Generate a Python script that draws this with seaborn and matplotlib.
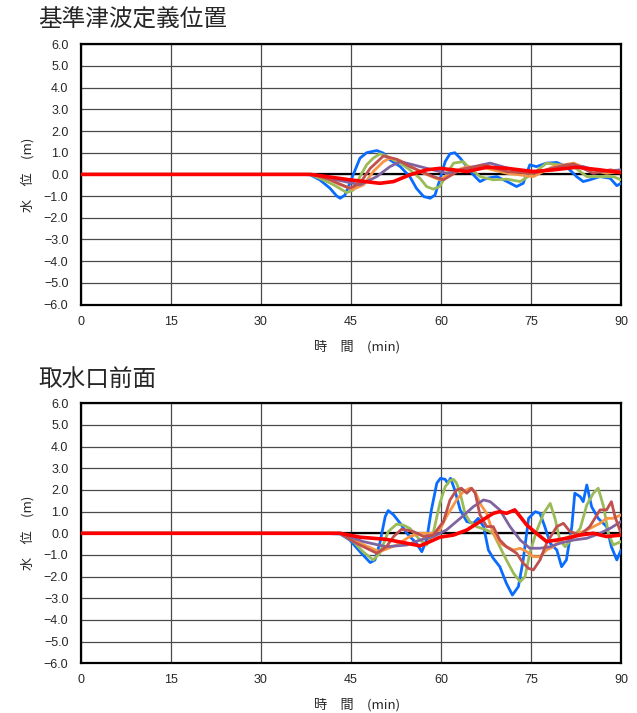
import matplotlib
matplotlib.use("Agg")
import matplotlib.pyplot as plt
import seaborn as sns
import pandas as pd

sns.set_style("white")
plt.rcParams["font.family"] = ["Noto Sans CJK JP", "DejaVu Sans"]

# ---------------- data ----------------
x_ticks = [0, 15, 30, 45, 60, 75, 90]
y_ticks = [6.0, 5.0, 4.0, 3.0, 2.0, 1.0, 0.0, -1.0, -2.0, -3.0, -4.0, -5.0, -6.0]
y_tick_labels = ["6.0", "5.0", "4.0", "3.0", "2.0", "1.0", "0.0",
                 "\u22121.0", "\u22122.0", "\u22123.0", "\u22124.0", "\u22125.0", "\u22126.0"]

panel_titles = ["基準津波定義位置", "取水口前面"]
x_label = "時\u3000間\u3000(min)"
y_label = "水\u3000位\u3000(m)"

series_names = ["case1", "case2", "case3", "case4", "case5", "case6"]
series_colors = ["#0a6cff", "#9bbb59", "#f79646", "#8064a2", "#c0504d", "#ff0000"]

# 基準津波定義位置 (time in min, water level in m)
top_t1 = [0, 36.5, 38.2, 39.8, 41.5, 42.6, 43.2, 44.0, 44.8, 45.7, 46.5, 47.6, 49.3, 50.4, 51.5,
          53.2, 54.8, 55.9, 57.1, 58.2, 59.0, 59.8, 60.7, 61.5, 62.3, 63.2, 64.3, 65.4, 66.5,
          67.6, 69.3, 71.0, 72.6, 73.7, 74.8, 75.9, 77.6, 79.3, 80.9, 82.6, 83.7, 84.8, 86.5,
          88.2, 89.3, 90.0]
top_v1 = [0, 0, -0.02, -0.25, -0.64, -0.99, -1.10, -0.95, -0.41, 0.21, 0.75, 1.0, 1.10, 0.98,
          0.67, 0.36, -0.10, -0.64, -1.02, -1.10, -0.95, -0.25, 0.59, 0.95, 1.0, 0.75, 0.36,
          -0.02, -0.33, -0.18, -0.10, -0.33, -0.56, -0.41, 0.44, 0.36, 0.52, 0.55, 0.36, -0.10,
          -0.33, -0.25, -0.10, -0.18, -0.52, -0.41]
top_t2 = [0, 38.2, 39.8, 42.1, 44.3, 45.4, 46.5, 47.6, 48.7, 49.8, 50.9, 52.1, 53.2, 54.8, 56.5,
          57.6, 58.7, 59.8, 61.0, 62.1, 63.7, 64.8, 66.5, 68.7, 71.0, 73.2, 75.4, 77.6, 79.8,
          82.1, 84.3, 86.5, 88.7, 90.0]
top_v2 = [0, 0, -0.18, -0.48, -0.84, -0.72, -0.10, 0.44, 0.75, 0.95, 0.85, 0.67, 0.52, 0.21,
          -0.18, -0.56, -0.68, -0.56, 0.05, 0.52, 0.59, 0.28, -0.10, -0.25, -0.22, -0.33, 0.05,
          0.52, 0.44, 0.36, -0.10, -0.10, -0.10, -0.25]
top_t3 = [0, 38.7, 41.0, 43.2, 45.4, 47.1, 48.7, 50.4, 51.5, 53.2, 54.8, 57.1, 59.8, 62.1, 64.3,
          67.6, 71.0, 75.4, 78.7, 82.1, 84.8, 87.6, 90.0]
top_v3 = [0, 0, -0.18, -0.48, -0.68, -0.48, 0.13, 0.59, 0.75, 0.64, 0.39, 0.05, -0.25, 0.13,
          0.36, 0.28, 0.05, -0.10, 0.36, 0.52, 0.21, 0.05, 0.13]
top_t4 = [0, 38.7, 42.1, 46.5, 49.3, 51.5, 53.2, 55.4, 57.6, 61.0, 64.3, 68.2, 72.1, 76.5, 80.9,
          83.7, 86.5, 90.0]
top_v4 = [0, 0, -0.22, -0.48, -0.10, 0.36, 0.59, 0.44, 0.28, 0.05, 0.28, 0.52, 0.21, 0.13, 0.44,
          0.36, 0.13, 0.21]
top_t5 = [0, 38.7, 41.5, 44.8, 46.5, 48.2, 50.4, 52.6, 54.8, 58.7, 60.4, 63.2, 67.1, 71.0, 75.4,
          79.8, 82.1, 85.4, 88.2, 90.0]
top_v5 = [0, 0, -0.25, -0.64, -0.41, 0.28, 0.85, 0.70, 0.36, -0.10, -0.25, 0.21, 0.44, 0.13,
          0.05, 0.36, 0.48, 0.05, 0.21, 0.13]
top_t6 = [0, 38.2, 40.9, 44.8, 49.8, 52.1, 54.8, 57.6, 59.8, 62.1, 64.3, 67.6, 71.0, 75.4, 78.7,
          82.6, 86.5, 90.0]
top_v6 = [0, 0, -0.10, -0.25, -0.41, -0.33, -0.02, 0.21, 0.28, 0.21, 0.13, 0.33, 0.28, 0.13,
          0.21, 0.33, 0.21, 0.08]

# 取水口前面 (time in min, water level in m)
bot_t1 = [0, 39.8, 43.2, 44.8, 46.5, 48.2, 49.0, 49.8, 50.7, 51.2, 52.1, 53.2, 54.3, 55.9, 56.8,
          57.6, 58.4, 59.3, 59.9, 60.7, 61.1, 61.6, 62.3, 63.2, 64.3, 65.4, 66.2, 67.1, 67.9,
          68.7, 69.8, 70.9, 71.9, 72.9, 73.7, 74.6, 75.7, 76.5, 77.3, 78.2, 79.3, 80.1, 80.9,
          81.8, 82.3, 83.2, 83.7, 84.3, 85.1, 86.2, 87.6, 88.4, 89.3, 90.0]
bot_v1 = [0, 0, -0.03, -0.31, -0.85, -1.35, -1.23, -0.46, 0.77, 1.05, 0.85, 0.46, 0.0, -0.46,
          -0.85, -0.31, 1.08, 2.31, 2.54, 2.49, 2.31, 2.54, 2.0, 1.08, 0.54, 0.46, 0.69, 0.31,
          -0.77, -1.15, -1.54, -2.31, -2.85, -2.46, -1.23, 0.69, 1.0, 0.92, 0.31, -0.46, -0.77,
          -1.54, -1.23, 0.31, 1.85, 1.69, 1.46, 2.23, 1.23, 0.69, 0.31, -0.62, -1.23, -0.77]
bot_t2 = [0, 43.2, 45.4, 47.0, 48.7, 49.8, 51.2, 52.6, 53.7, 54.8, 56.5, 57.6, 58.7, 59.8, 60.7,
          61.5, 62.1, 62.6, 63.2, 64.0, 64.8, 65.9, 67.6, 68.7, 69.8, 70.9, 72.1, 73.2, 74.0,
          74.8, 75.9, 77.1, 78.2, 79.0, 79.8, 80.7, 82.1, 83.2, 84.3, 85.4, 86.2, 87.1, 87.9,
          88.7, 90.0]
bot_v2 = [0, 0, -0.38, -0.85, -1.23, -0.92, 0.08, 0.42, 0.38, 0.23, -0.31, -0.54, 0.0, 1.38,
          2.15, 2.43, 2.49, 2.31, 1.85, 0.92, 0.54, 0.31, 0.15, 0.0, -0.62, -1.23, -1.85, -2.23,
          -2.0, -0.92, 0.08, 0.92, 1.38, 0.69, -0.31, -0.62, -0.15, 0.23, 1.31, 1.85, 2.08,
          1.23, 0.0, -0.54, -0.38]
bot_t3 = [0, 43.2, 46.5, 49.8, 52.6, 54.8, 56.5, 58.7, 59.8, 60.9, 62.6, 63.7, 64.8, 65.7, 66.5,
          67.6, 68.7, 69.8, 70.9, 72.1, 73.2, 74.3, 75.4, 76.5, 77.6, 78.7, 79.8, 82.1, 84.3,
          86.5, 87.6, 88.7, 90.0]
bot_v3 = [0, 0, -0.46, -0.85, -0.54, -0.15, 0.0, 0.0, 0.15, 0.77, 1.54, 1.92, 2.08, 1.92, 1.38,
          0.92, 0.0, -0.46, -0.62, -0.77, -0.69, -0.85, -1.08, -1.08, -0.77, -0.62, -0.31,
          -0.08, 0.15, 0.46, 0.69, 0.69, 0.85]
bot_t4 = [0, 43.2, 47.0, 50.9, 54.3, 56.5, 58.7, 60.9, 63.2, 65.4, 67.1, 68.2, 69.8, 71.5, 73.2,
          74.8, 76.5, 78.2, 79.8, 82.1, 84.3, 86.5, 88.2, 90.0]
bot_v4 = [0, 0, -0.38, -0.62, -0.54, -0.31, -0.15, 0.15, 0.69, 1.23, 1.54, 1.46, 1.08, 0.31,
          -0.31, -0.69, -0.69, -0.62, -0.46, -0.31, -0.23, 0.0, 0.23, 0.54]
bot_t5 = [0, 43.2, 45.9, 49.3, 50.9, 52.1, 53.4, 54.3, 55.4, 57.1, 58.7, 60.4, 61.5, 62.6, 63.4,
          64.3, 65.1, 65.7, 66.5, 67.6, 68.7, 69.8, 70.9, 72.6, 73.7, 74.6, 75.4, 76.5, 77.6,
          79.3, 80.4, 81.5, 83.2, 84.8, 86.5, 87.6, 88.4, 89.0, 90.0]
bot_v5 = [0, 0, -0.46, -0.92, -0.62, -0.15, 0.18, 0.15, 0.08, -0.15, -0.08, 0.54, 1.54, 2.0,
          2.08, 1.85, 2.08, 1.85, 0.85, 0.31, 0.31, -0.31, -0.62, -0.92, -1.38, -1.62, -1.69,
          -1.23, -0.46, 0.31, 0.46, 0.08, -0.08, 0.31, 1.08, 1.08, 1.46, 0.77, 0.0]
bot_t6 = [0, 43.2, 46.5, 50.9, 54.3, 56.5, 58.2, 59.8, 62.1, 64.3, 66.5, 68.7, 69.8, 70.9, 72.3,
          73.2, 74.3, 75.9, 77.6, 79.3, 80.9, 83.2, 85.4, 87.6, 90.0]
bot_v6 = [0, 0, -0.18, -0.28, -0.46, -0.58, -0.38, -0.18, -0.08, 0.15, 0.54, 0.92, 1.0, 0.92,
          1.08, 0.77, 0.38, 0.0, -0.38, -0.31, -0.23, -0.08, 0.0, -0.15, -0.08]

panels = [
    [(top_t1, top_v1), (top_t2, top_v2), (top_t3, top_v3),
     (top_t4, top_v4), (top_t5, top_v5), (top_t6, top_v6)],
    [(bot_t1, bot_v1), (bot_t2, bot_v2), (bot_t3, bot_v3),
     (bot_t4, bot_v4), (bot_t5, bot_v5), (bot_t6, bot_v6)],
]

# ---------------- figure ----------------
W, H = 637, 713
fig = plt.figure(figsize=(W / 100, H / 100), dpi=100)

# axes boxes in pixels: (left, top, right, bottom)
boxes = [(81, 44.3, 621, 304.5), (81, 403.3, 621, 663.3)]
title_y = [20.5, 379]

tick_font = dict(family=["Liberation Sans", "DejaVu Sans"], size=9)

for k, (box, series) in enumerate(zip(boxes, panels)):
    l, t, r, b = box
    ax = fig.add_axes([l / W, 1 - b / H, (r - l) / W, (b - t) / H])

    ax.axhline(0, color="black", lw=1.6, zorder=2)
    for i, ((ts, vs), name, col) in enumerate(zip(series, series_names, series_colors)):
        df = pd.DataFrame({"t": ts, "v": vs})
        lw = 2.6 if i == 5 else 2.0
        sns.lineplot(data=df, x="t", y="v", ax=ax, color=col, lw=lw,
                     estimator=None, sort=False, zorder=3 + i)

    ax.set_xlim(0, 90)
    ax.set_ylim(-6, 6)
    ax.set_xticks(x_ticks)
    ax.set_xticklabels([str(v) for v in x_ticks], **tick_font)
    ax.set_yticks(y_ticks)
    ax.set_yticklabels(y_tick_labels, **tick_font)
    ax.tick_params(axis="both", length=0)
    ax.tick_params(axis="y", pad=9)
    ax.tick_params(axis="x", pad=8)
    ax.grid(True, color="#4a4a4a", lw=0.9)
    ax.set_axisbelow(True)
    for s in ax.spines.values():
        s.set_color("black")
        s.set_linewidth(1.6)
    ax.set_xlabel(x_label, fontsize=9.5, labelpad=8)
    ax.xaxis.set_label_coords(0.511, -0.135)
    ax.set_ylabel(y_label, fontsize=9.5, labelpad=7)

    fig.text(38 / W, 1 - title_y[k] / H, panel_titles[k], fontsize=17,
             ha="left", va="center")

fig.savefig("out.png", dpi=100)
